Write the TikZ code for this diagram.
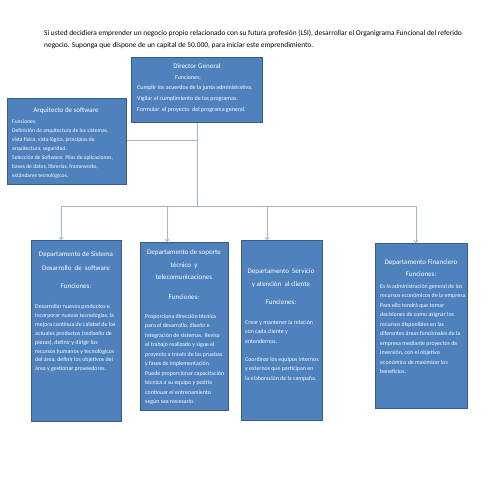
\documentclass[tikz,border=0pt]{standalone}
\usepackage{fontspec}
\setmainfont{Carlito}
\usetikzlibrary{arrows.meta}
\definecolor{boxfill}{HTML}{4F81BD}
\definecolor{boxline}{HTML}{385D8A}
\definecolor{conn}{HTML}{A3B6CE}
\tikzset{
  orgbox/.style={draw=boxline, line width=0.8pt, fill=boxfill, anchor=north west, inner sep=0pt},
  boxtitle/.style={text=white, inner sep=0pt, align=center, font=\fontsize{7}{13}\selectfont},
  boxbody/.style={text=white, inner sep=0pt, align=left, anchor=base west, font=\fontsize{5.9}{9}\selectfont},
  link/.style={draw=conn, line width=0.9pt},
  arrowlink/.style={link, -{To[length=3pt,width=4.5pt]}},
}
\begin{document}
\begin{tikzpicture}[x=1pt,y=-1pt]
\useasboundingbox (0,0) rectangle (495,495);

% heading (anchor is baseline of last line)
\node[anchor=base west, inner sep=0pt, align=left, font=\fontsize{7.4}{12}\selectfont] (head) at (44,47.5)
 {Si usted decidiera emprender un negocio propio relacionado con su futura profesión (LSI), desarrollar el Organigrama Funcional del referido\\
 negocio. Suponga que dispone de un capital de 50.000, para iniciar este emprendimiento.};

% boxes
\node[orgbox, minimum width=131pt, minimum height=65pt] (dir) at (131,57) {};
\node[orgbox, minimum width=119pt, minimum height=86pt] (arq) at (7,98) {};
\node[orgbox, minimum width=90pt, minimum height=181pt] (b1) at (31,240) {};
\node[orgbox, minimum width=88pt, minimum height=168pt] (b2) at (140,242) {};
\node[orgbox, minimum width=81pt, minimum height=180pt] (b3) at (241,240) {};
\node[orgbox, minimum width=92pt, minimum height=165pt] (b4) at (375,243) {};

% director text
\node[boxtitle, anchor=base] (dirT) at (197,68.5) {Director General};
\node[boxtitle, anchor=base, font=\fontsize{5.9}{9}\selectfont] (dirF) at (188,79) {Funciones:};
\node[boxbody, font=\fontsize{6}{11}\selectfont] (dirB) at (137,111)
 {Cumplir los acuerdos de la junta administrativa.\\
  Vigilar el cumplimiento de los programas.\\
  Formular \ el proyecto \ del programa general.};

% arquitecto text
\node[boxtitle, anchor=base] (arqT) at (66,112.5) {Arquitecto de software};
\node[boxbody, font=\fontsize{5.6}{9}\selectfont] (arqB) at (12,177.5)
 {Funciones:\\
  Definición de arquitectura de los sistemas,\\
  vista física, vista lógica, principios de\\
  arquitectura, seguridad.\\
  Selección de Software: Pilas de aplicaciones,\\
  bases de datos, librerías, frameworks,\\
  estándares tecnológicos.};

% box 1
\node[boxtitle, anchor=base, font=\fontsize{7}{14}\selectfont] (b1T) at (76,270.5)
 {Departamento de Sistema\\Desarrollo \ de \ software};
\node[boxtitle, anchor=base] (b1F) at (76,288.5) {Funciones:};
\node[boxbody, font=\fontsize{5.9}{8.9}\selectfont] (b1B) at (35,370.8)
 {Desarrollar nuevos productos e\\
  incorporar nuevas tecnologías, la\\
  mejora continua de calidad de los\\
  actuales productos (rediseño de\\
  piezas), definir y dirigir los\\
  recursos humanos y tecnológicos\\
  del área, definir los objetivos del\\
  área y gestionar proveedores.};

% box 2
\node[boxtitle, anchor=base, font=\fontsize{7}{12.5}\selectfont] (b2T) at (184,279.5)
 {Departamento de soporte\\técnico \ y\\telecomunicaciones};
\node[boxtitle, anchor=base] (b2F) at (184,299.5) {Funciones:};
\node[boxbody, font=\fontsize{5.9}{9.5}\selectfont] (b2B) at (145,403.5)
 {Proporciona dirección técnica\\
  para el desarrollo, diseño e\\
  integración de sistemas. Revisa\\
  el trabajo realizado y sigue el\\
  proyecto a través de las pruebas\\
  y fases de implementación.\\
  Puede proporcionar capacitación\\
  técnica a su equipo y podría\\
  continuar el entrenamiento\\
  según sea necesario.};

% box 3
\node[boxtitle, anchor=base, font=\fontsize{7}{13}\selectfont] (b3T) at (281,286.5)
 {Departamento \ Servicio\\y atención \ al cliente};
\node[boxtitle, anchor=base] (b3F) at (281,304.5) {Funciones:};
\node[boxbody, font=\fontsize{5.9}{9.6}\selectfont] (b3B) at (245,343.2)
 {Crear y mantener la relación\\
  con cada cliente y\\
  entendernos.};
\node[boxbody, font=\fontsize{5.9}{9.6}\selectfont] (b3C) at (245,380.2)
 {Coordinar los equipos internos\\
  y externos que participan en\\
  la elaboración de la campaña.};

% box 4
\node[boxtitle, anchor=base, font=\fontsize{7}{11.5}\selectfont] (b4T) at (421,276)
 {Departamento Financiero\\Funciones:};
\node[boxbody, font=\fontsize{5.9}{9.5}\selectfont] (b4B) at (380,373.5)
 {Es la administración general de los\\
  recursos económicos de la empresa.\\
  Para ello tendrá que tomar\\
  decisiones de como asignar los\\
  recursos disponibles en las\\
  diferentes áreas funcionales de la\\
  empresa mediante proyectos de\\
  inversión, con el objetivo\\
  económico de maximizar los\\
  beneficios.};

% connectors
\coordinate (k) at (197,140);
\coordinate (j) at (197,206);
\coordinate (t1) at (61,240);
\coordinate (t2) at (167,242);
\coordinate (t3) at (267,240);
\coordinate (t4) at (416,243);
\draw[link] (dir.south -| j) -- (j);
\draw[link] (k) -- (k -| arq.east);
\draw[arrowlink] (j) -| (t1);
\draw[arrowlink] (j) -| (t2);
\draw[arrowlink] (j) -| (t3);
\draw[arrowlink] (j) -| (t4);
\end{tikzpicture}
\end{document}
